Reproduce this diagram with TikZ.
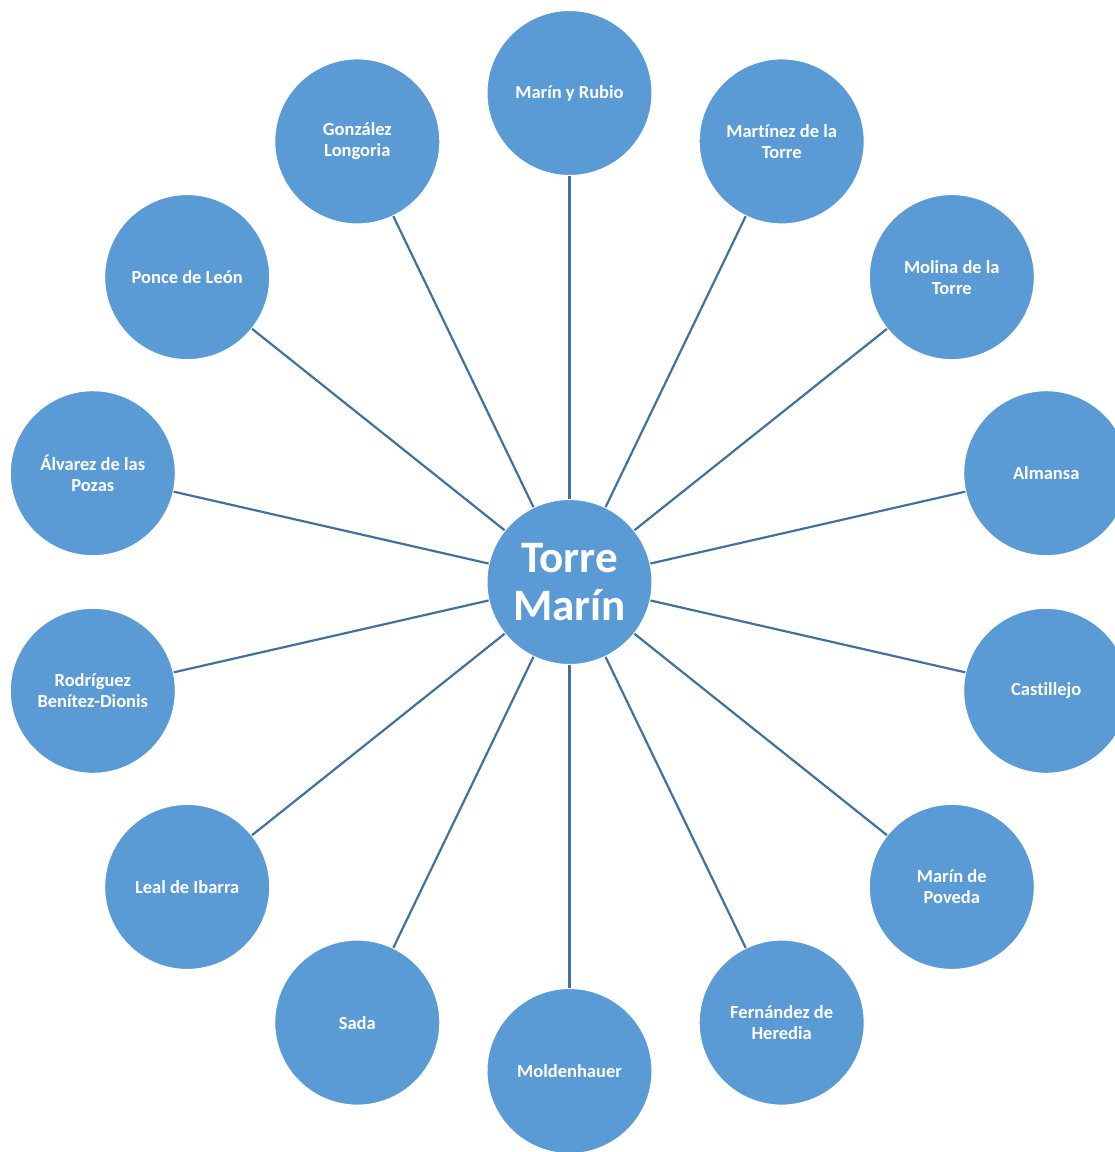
\documentclass[tikz,border=0pt]{standalone}
\usepackage{fontspec}
\setmainfont{Carlito}[Ligatures=NoCommon]
\definecolor{nodefill}{HTML}{5B9BD5}
\definecolor{linkcol}{HTML}{41719C}
\begin{document}
\begin{tikzpicture}[x=1pt,y=-1pt,
  hub/.style={circle, fill=nodefill, draw=white, line width=1pt, minimum size=165pt, inner sep=0pt, text=white, font=\bfseries\fontsize{45}{48}\selectfont, align=center},
  leaf/.style={circle, fill=nodefill, draw=white, line width=1pt, minimum size=165pt, inner sep=0pt, text=white, font=\bfseries\fontsize{18.5}{21}\selectfont, align=center},
  link/.style={draw=linkcol, line width=2.2pt}]
\useasboundingbox (0,0) rectangle (1115,1152);
\clip (0,0) rectangle (1115,1152);
\node[hub] (c) at (569.5,582) {Torre\\Marín};
\node[leaf] (n0) at (569.5,93) {Marín y Rubio};
\node[leaf] (n1) at (781.7,141.4) {Martínez de la\\Torre};
\node[leaf] (n2) at (951.8,277.1) {Molina de la\\Torre};
\node[leaf] (n3) at (1046.2,473.2) {Almansa};
\node[leaf] (n4) at (1046.2,690.8) {Castillejo};
\node[leaf] (n5) at (951.8,886.9) {Marín de\\Poveda};
\node[leaf] (n6) at (781.7,1022.6) {Fernández de\\Heredia};
\node[leaf] (n7) at (569.5,1071) {Moldenhauer};
\node[leaf] (n8) at (357.3,1022.6) {Sada};
\node[leaf] (n9) at (187.2,886.9) {Leal de Ibarra};
\node[leaf] (n10) at (92.8,690.8) {Rodríguez\\Benítez-Dionis};
\node[leaf] (n11) at (92.8,473.2) {Álvarez de las\\Pozas};
\node[leaf] (n12) at (187.2,277.1) {Ponce de León};
\node[leaf] (n13) at (357.3,141.4) {González\\Longoria};
\foreach \k in {0,...,13} {\draw[link] (c) -- (n\k);}
\end{tikzpicture}
\end{document}
